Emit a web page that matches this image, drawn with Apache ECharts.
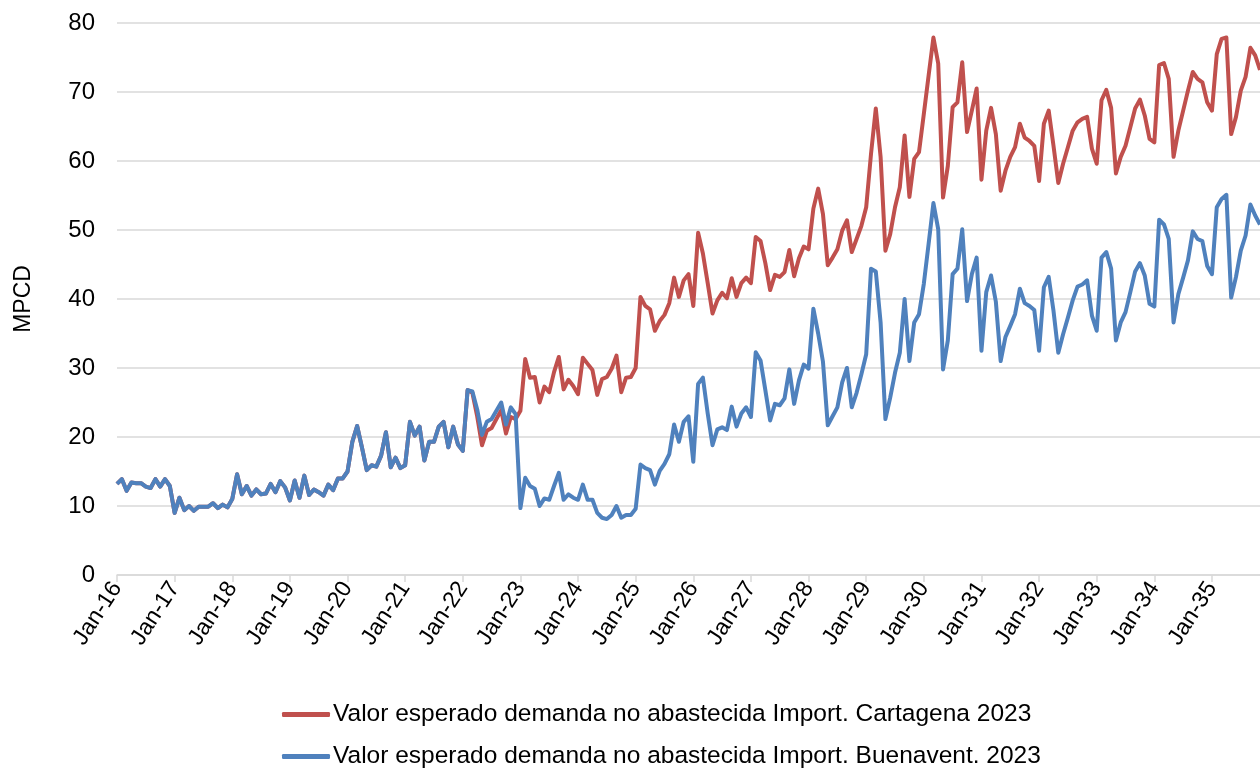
<!DOCTYPE html>
<html>
<head>
<meta charset="utf-8">
<script src="https://cdn.jsdelivr.net/npm/echarts@6/dist/echarts.min.js"></script>
<style>
  html, body { margin: 0; padding: 0; background: #fff; }
  #chart { width: 1260px; height: 769px; }
</style>
</head>
<body>
<div id="chart"></div>
<script>
// Monthly axis: Jan-16 .. Nov-35
const monthNames = ['Jan','Feb','Mar','Apr','May','Jun','Jul','Aug','Sep','Oct','Nov','Dec'];
const firstYear = 2016;
const monthCount = 239;
const categories = [];
for (let i = 0; i < monthCount; i++) {
  const y = firstYear + Math.floor(i / 12);
  categories.push(monthNames[i % 12] + '-' + String(y).slice(2));
}

const yTicks = [0, 10, 20, 30, 40, 50, 60, 70, 80];

const seriesNames = [
  'Valor esperado demanda no abastecida Import. Cartagena 2023',
  'Valor esperado demanda no abastecida Import. Buenavent. 2023'
];

// Expected unserved demand, MPCD — Cartagena import
const cartagena = [
  13.2, 13.9, 12.2, 13.4, 13.3, 13.3, 12.8, 12.6, 13.9, 12.8, 13.9, 12.9,
  9.0, 11.2, 9.4, 10.0, 9.3, 9.9, 9.9, 9.9, 10.4, 9.7, 10.2, 9.8,
  11.0, 14.6, 11.7, 12.9, 11.5, 12.4, 11.7, 11.8, 13.2, 12.0, 13.6, 12.7,
  10.8, 13.7, 11.2, 14.4, 11.6, 12.4, 12.0, 11.5, 13.1, 12.3, 14.0, 14.0,
  15.0, 19.3, 21.6, 18.5, 15.2, 15.9, 15.7, 17.3, 20.7, 15.6, 17.0, 15.5,
  15.9, 22.2, 20.2, 21.5, 16.6, 19.3, 19.3, 21.5, 22.2, 18.5, 21.5, 18.9,
  18.0, 26.8, 26.4, 23.0, 18.8, 20.9, 21.3, 22.6, 23.9, 20.5, 22.9, 22.6,
  23.8, 31.3, 28.6, 28.7, 25.0, 27.3, 26.5, 29.4, 31.6, 26.9, 28.3, 27.4,
  26.2, 31.5, 30.6, 29.7, 26.1, 28.4, 28.7, 29.9, 31.8, 26.5, 28.6, 28.7,
  30.0, 40.3, 39.0, 38.5, 35.4, 36.8, 37.7, 39.4, 43.1, 40.3, 42.7, 43.6,
  39.0, 49.6, 46.6, 42.3, 37.9, 39.8, 40.9, 40.1, 43.0, 40.3, 42.3, 43.1,
  42.3, 49.0, 48.4, 45.2, 41.3, 43.5, 43.2, 43.9, 47.1, 43.3, 45.9, 47.6,
  47.2, 53.1, 56.0, 52.3, 44.9, 46.0, 47.2, 49.9, 51.4, 46.8, 48.7, 50.6,
  53.3, 61.0, 67.6, 60.6, 47.0, 49.4, 53.3, 56.2, 63.7, 54.8, 60.3, 61.3,
  66.8, 72.4, 77.9, 74.1, 54.7, 59.3, 67.8, 68.5, 74.3, 64.2, 67.3, 70.5,
  57.3, 64.4, 67.7, 63.9, 55.7, 58.6, 60.6, 62.0, 65.4, 63.4, 62.9, 62.2,
  57.1, 65.4, 67.3, 62.2, 56.8, 59.6, 62.0, 64.4, 65.6, 66.1, 66.4, 61.8,
  59.6, 68.8, 70.3, 67.7, 58.2, 60.6, 62.2, 64.9, 67.6, 68.9, 66.6, 63.2,
  62.7, 73.9, 74.2, 71.9, 60.6, 64.4, 67.3, 70.2, 72.9, 71.9, 71.4, 68.5,
  67.3, 75.5, 77.7, 77.9, 63.9, 66.4, 70.2, 72.2, 76.4, 75.3, 73.2
];

// Expected unserved demand, MPCD — Buenaventura import
const buenaventura = [
  13.2, 13.9, 12.2, 13.4, 13.3, 13.3, 12.8, 12.6, 13.9, 12.8, 13.9, 12.9,
  9.0, 11.2, 9.4, 10.0, 9.3, 9.9, 9.9, 9.9, 10.4, 9.7, 10.2, 9.8,
  11.0, 14.6, 11.7, 12.9, 11.5, 12.4, 11.7, 11.8, 13.2, 12.0, 13.6, 12.7,
  10.8, 13.7, 11.2, 14.4, 11.6, 12.4, 12.0, 11.5, 13.1, 12.3, 14.0, 14.0,
  15.0, 19.3, 21.6, 18.5, 15.2, 15.9, 15.7, 17.3, 20.7, 15.6, 17.0, 15.5,
  15.9, 22.2, 20.2, 21.5, 16.6, 19.3, 19.3, 21.5, 22.2, 18.5, 21.5, 18.9,
  18.0, 26.8, 26.6, 24.0, 20.3, 22.2, 22.6, 23.8, 25.0, 21.8, 24.3, 23.3,
  9.7, 14.1, 12.9, 12.5, 10.0, 11.1, 10.9, 12.9, 14.8, 10.9, 11.7, 11.2,
  10.9, 13.1, 10.9, 10.9, 9.0, 8.3, 8.1, 8.7, 10.0, 8.3, 8.7, 8.7,
  9.6, 16.0, 15.5, 15.2, 13.1, 15.1, 16.1, 17.5, 21.8, 19.3, 22.2, 23.0,
  16.4, 27.7, 28.6, 23.4, 18.8, 21.1, 21.4, 21.0, 24.4, 21.5, 23.4, 24.3,
  22.9, 32.3, 31.1, 26.8, 22.4, 24.8, 24.6, 25.6, 29.8, 24.8, 28.2, 30.5,
  29.9, 38.6, 35.0, 30.9, 21.7, 23.0, 24.3, 27.9, 30.0, 24.3, 26.4, 29.1,
  32.0, 44.4, 44.0, 36.6, 22.6, 25.7, 29.3, 32.2, 40.0, 31.0, 36.6, 37.8,
  42.2, 48.0, 53.9, 50.1, 29.8, 34.0, 43.6, 44.4, 50.1, 39.7, 43.6, 46.0,
  32.5, 41.0, 43.4, 39.6, 31.0, 34.5, 36.1, 37.8, 41.5, 39.4, 39.0, 38.4,
  32.5, 41.7, 43.2, 38.3, 32.2, 34.9, 37.3, 39.8, 41.8, 42.1, 42.7, 37.6,
  35.4, 46.0, 46.8, 44.4, 34.0, 36.6, 38.1, 41.0, 44.0, 45.2, 43.4, 39.3,
  38.9, 51.5, 50.8, 48.7, 36.6, 40.7, 43.1, 45.6, 49.8, 48.7, 48.4, 44.8,
  43.6, 53.3, 54.5, 55.1, 40.2, 43.2, 47.0, 49.2, 53.7, 52.1, 50.8
];

const colors = ['#C0504D', '#4F81BD'];
const textFont = '"Liberation Sans", Arial, sans-serif';

// One legend block per series, stacked under the plot
function legendRow(name, top) {
  return {
    show: true,
    orient: 'horizontal',
    left: 282,
    top: top,
    padding: 0,
    itemWidth: 48,
    itemHeight: 5,
    itemGap: 0,
    icon: 'roundRect',
    data: [name],
    textStyle: {
      fontFamily: textFont,
      fontSize: 24.5,
      color: '#000',
      padding: [0, 0, 0, -2]
    }
  };
}

const chart = echarts.init(document.getElementById('chart'), null, { renderer: 'canvas' });

chart.setOption({
  animation: false,
  backgroundColor: '#ffffff',
  color: colors,
  grid: { left: 117, right: 0, top: 23, bottom: 194, containLabel: false },
  legend: [
    legendRow(seriesNames[0], 702),
    legendRow(seriesNames[1], 744)
  ],
  xAxis: {
    type: 'category',
    data: categories,
    boundaryGap: false,
    axisLine: { show: true, lineStyle: { color: '#d9d9d9', width: 1.5 } },
    axisTick: {
      show: true,
      interval: 11,
      length: 7,
      lineStyle: { color: '#d9d9d9', width: 1.5 }
    },
    axisLabel: {
      interval: 11,
      rotate: 57,
      margin: 9,
      fontFamily: textFont,
      fontSize: 23,
      color: '#000'
    },
    splitLine: { show: false }
  },
  yAxis: {
    type: 'value',
    min: yTicks[0],
    max: yTicks[yTicks.length - 1],
    interval: 10,
    name: 'MPCD',
    nameLocation: 'middle',
    nameGap: 82,
    nameRotate: 90,
    nameTextStyle: { fontFamily: textFont, fontSize: 23, color: '#000' },
    axisLine: { show: false },
    axisTick: { show: false },
    axisLabel: {
      margin: 22,
      fontFamily: textFont,
      fontSize: 24,
      color: '#000',
      formatter: v => yTicks.includes(v) ? String(v) : ''
    },
    splitLine: { show: true, lineStyle: { color: '#d9d9d9', width: 1.5 } }
  },
  series: [
    {
      name: seriesNames[0],
      type: 'line',
      data: cartagena,
      showSymbol: false,
      lineStyle: { width: 4, color: colors[0], join: 'round' },
      z: 2
    },
    {
      name: seriesNames[1],
      type: 'line',
      data: buenaventura,
      showSymbol: false,
      lineStyle: { width: 4, color: colors[1], join: 'round' },
      z: 3
    }
  ]
});
</script>
</body>
</html>
